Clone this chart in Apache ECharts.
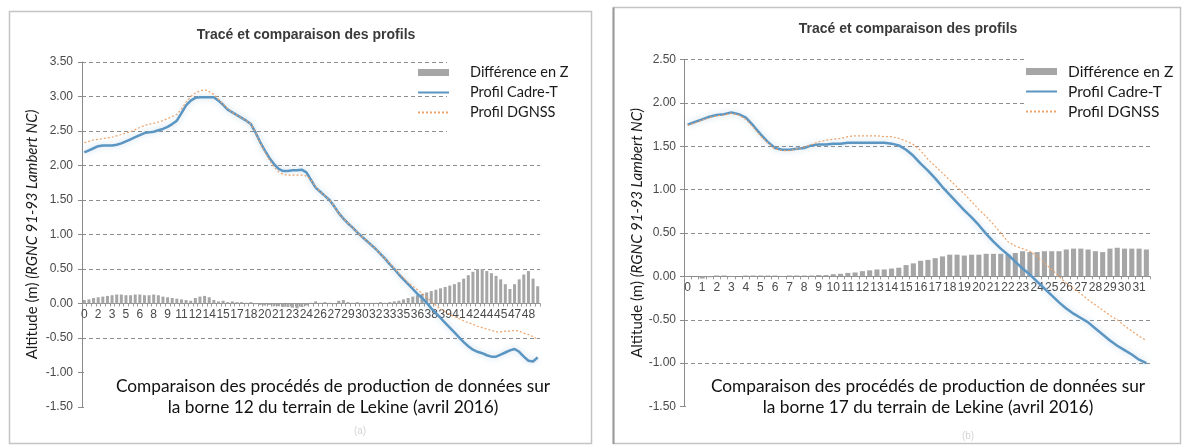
<!DOCTYPE html>
<html>
<head>
<meta charset="utf-8">
<script src="https://cdn.jsdelivr.net/npm/echarts@6.0.0/dist/echarts.min.js"></script>
<style>
  html, body { margin: 0; padding: 0; background: #ffffff; }
  #chart { width: 1185px; height: 445px; }
</style>
</head>
<body>
<div id="chart"></div>
<script>
// Distance along each profile (m), one category every 0.5 m
const distB12 = [0,0.5,1,1.5,2,2.5,3,3.5,4,4.5,5,5.5,6,6.5,7,7.5,8,8.5,9,9.5,
  10,10.5,11,11.5,12,12.5,13,13.5,14,14.5,15,15.5,16,16.5,17,17.5,18,18.5,19,19.5,
  20,20.5,21,21.5,22,22.5,23,23.5,24,24.5,25,25.5,26,26.5,27,27.5,28,28.5,29,29.5,
  30,30.5,31,31.5,32,32.5,33,33.5,34,34.5,35,35.5,36,36.5,37,37.5,38,38.5,39,39.5,
  40,40.5,41,41.5,42,42.5,43,43.5,44,44.5,45,45.5,46,46.5,47,47.5,48,48.5,49];
const distB17 = [0,0.5,1,1.5,2,2.5,3,3.5,4,4.5,5,5.5,6,6.5,7,7.5,8,8.5,9,9.5,
  10,10.5,11,11.5,12,12.5,13,13.5,14,14.5,15,15.5,16,16.5,17,17.5,18,18.5,19,19.5,
  20,20.5,21,21.5,22,22.5,23,23.5,24,24.5,25,25.5,26,26.5,27,27.5,28,28.5,29,29.5,
  30,30.5,31,31.5];

// Borne 12 : altitudes (m)
const cadreB12 = [2.19,2.22,2.25,2.28,2.29,2.29,2.29,2.30,2.32,2.35,
  2.38,2.41,2.44,2.47,2.48,2.49,2.51,2.53,2.56,2.60,
  2.65,2.76,2.87,2.94,2.98,2.99,2.99,2.99,2.99,2.94,
  2.88,2.81,2.77,2.73,2.69,2.65,2.60,2.48,2.34,2.22,
  2.11,2.02,1.95,1.92,1.92,1.93,1.93,1.94,1.90,1.79,
  1.68,1.62,1.56,1.50,1.41,1.31,1.23,1.16,1.10,1.03,
  0.97,0.91,0.85,0.79,0.72,0.65,0.57,0.50,0.42,0.35,
  0.28,0.21,0.14,0.08,0.01,-0.07,-0.14,-0.21,-0.28,-0.35,
  -0.42,-0.49,-0.56,-0.62,-0.67,-0.70,-0.72,-0.75,-0.77,-0.77,
  -0.74,-0.71,-0.68,-0.66,-0.70,-0.77,-0.83,-0.84,-0.78];
const dgnssB12 = [2.33,2.35,2.37,2.38,2.39,2.40,2.41,2.43,2.45,2.47,
  2.49,2.52,2.55,2.58,2.60,2.61,2.63,2.65,2.68,2.71,
  2.74,2.82,2.92,3.00,3.05,3.08,3.10,3.07,3.03,2.96,
  2.89,2.82,2.77,2.73,2.69,2.65,2.60,2.48,2.33,2.20,
  2.08,1.98,1.91,1.87,1.86,1.86,1.86,1.86,1.85,1.79,
  1.69,1.62,1.56,1.50,1.41,1.31,1.23,1.16,1.10,1.03,
  0.97,0.91,0.85,0.79,0.72,0.65,0.58,0.51,0.44,0.37,
  0.30,0.25,0.20,0.15,0.09,0.03,-0.03,-0.08,-0.12,-0.16,
  -0.19,-0.22,-0.25,-0.28,-0.30,-0.33,-0.35,-0.37,-0.39,-0.41,
  -0.41,-0.40,-0.40,-0.39,-0.40,-0.43,-0.45,-0.48,-0.52];
const diffB12 = [0.05,0.06,0.08,0.09,0.10,0.11,0.12,0.13,0.13,0.12,
  0.12,0.13,0.13,0.12,0.12,0.13,0.12,0.10,0.09,0.08,
  0.07,0.06,0.05,0.04,0.08,0.10,0.11,0.09,0.05,0.03,
  0.04,0.02,0.03,0.02,0.02,0.01,0.02,-0.01,-0.02,-0.03,
  -0.02,-0.04,-0.04,-0.05,-0.05,-0.06,-0.07,-0.05,-0.03,0.01,
  0.03,0.01,0.02,0.01,-0.01,0.04,0.05,0.02,0.01,0.02,
  0.01,0.00,0.01,0.01,0.02,0.01,0.02,0.03,0.04,0.06,
  0.08,0.10,0.12,0.14,0.16,0.18,0.20,0.22,0.24,0.26,
  0.28,0.31,0.36,0.41,0.46,0.50,0.50,0.47,0.44,0.40,
  0.35,0.28,0.21,0.28,0.35,0.42,0.47,0.36,0.25];

// Borne 17 : altitudes (m)
const cadreB17 = [1.75,1.78,1.81,1.84,1.86,1.87,1.89,1.87,1.83,1.74,
  1.64,1.55,1.48,1.46,1.46,1.47,1.48,1.51,1.52,1.52,
  1.53,1.53,1.54,1.54,1.54,1.54,1.54,1.54,1.53,1.51,
  1.46,1.39,1.30,1.22,1.13,1.03,0.94,0.85,0.76,0.68,
  0.59,0.49,0.40,0.32,0.25,0.17,0.09,0.02,-0.06,-0.14,
  -0.22,-0.30,-0.37,-0.43,-0.48,-0.53,-0.60,-0.67,-0.74,-0.80,
  -0.85,-0.90,-0.96,-1.00];
const dgnssB17 = [1.74,1.77,1.80,1.83,1.85,1.86,1.88,1.86,1.81,1.72,
  1.62,1.54,1.47,1.45,1.45,1.47,1.49,1.52,1.55,1.57,
  1.58,1.59,1.61,1.62,1.62,1.62,1.62,1.61,1.61,1.59,
  1.56,1.52,1.45,1.35,1.27,1.19,1.11,1.03,0.95,0.86,
  0.77,0.69,0.60,0.50,0.40,0.35,0.32,0.29,0.23,0.15,
  0.08,0.00,-0.08,-0.14,-0.20,-0.27,-0.33,-0.39,-0.45,-0.50,
  -0.57,-0.63,-0.69,-0.74];
const diffB17 = [0.005,0.00,-0.025,-0.01,0.01,0.01,0.005,0.00,0.01,0.01,
  0.01,0.01,0.01,0.005,0.01,0.01,0.01,0.01,0.015,0.015,
  0.025,0.03,0.04,0.045,0.06,0.07,0.08,0.08,0.09,0.10,
  0.13,0.15,0.18,0.19,0.21,0.23,0.25,0.25,0.24,0.25,
  0.25,0.26,0.26,0.26,0.25,0.27,0.29,0.28,0.28,0.29,
  0.29,0.29,0.31,0.32,0.32,0.31,0.29,0.28,0.32,0.33,
  0.32,0.32,0.32,0.31];

const seriesNames = ['Différence en Z', 'Profil Cadre-T', 'Profil DGNSS'];
const chartTitle = 'Tracé et comparaison des profils';
const axisTitle = '{n|Altitude (m) }{i|(RGNC 91-93 Lambert NC)}';
const captionB12 = ['Comparaison des procédés de production de données sur',
                    'la borne 12 du terrain de Lekine (avril 2016)'];
const captionB17 = ['Comparaison des procédés de production de données sur',
                    'la borne 17 du terrain de Lekine (avril 2016)'];

const GREY = '#a6a6a6', BLUE = '#5b95c2', ORANGE = '#eda36a';
const AXIS = '#8a8a8a', GRID = '#8e8e8e', TICKTXT = '#4a4a4a';
const SANS = 'Liberation Sans', HUMAN = 'Lato';

// panel geometry (pixels)
const P12 = { left: 82, right: 540, top: 62, bottom: 407, min: -1.5, max: 3.5 };
const P17 = { left: 684, right: 1150, top: 59.5, bottom: 406.5, min: -1.5, max: 2.5 };
// vertical distance from the plot bottom up to the zero line
function zeroLift(p) { return (p.bottom - p.top) * (0 - p.min) / (p.max - p.min); }

function yAxisFor(grid, p, gap, margin) {
  return {
    type: 'value', gridIndex: grid, min: p.min, max: p.max, interval: 0.5,
    axisLine: { show: true, lineStyle: { color: AXIS, width: 1 } },
    axisTick: { show: true, length: 4, lineStyle: { color: AXIS } },
    axisLabel: { formatter: v => v.toFixed(2), color: TICKTXT, fontFamily: SANS, fontSize: 12, margin: margin },
    splitLine: { show: true, lineStyle: { color: GRID, width: 1, type: [4, 3] } },
    name: axisTitle, nameLocation: 'middle', nameGap: gap,
    nameTextStyle: {
      color: '#1a1a1a',
      rich: {
        n: { fontFamily: HUMAN, fontSize: 15, color: '#1a1a1a' },
        i: { fontFamily: HUMAN, fontSize: 15, fontStyle: 'italic', color: '#1a1a1a' }
      }
    }
  };
}

// category axis drawn along the zero line of the value axis
function xAxisFor(grid, dist, every, p) {
  return {
    type: 'category', gridIndex: grid, data: dist, position: 'bottom', offset: -zeroLift(p),
    axisLine: { onZero: false, lineStyle: { color: AXIS, width: 1 } },
    axisTick: { show: true, interval: 0, length: 3, lineStyle: { color: '#9a9a9a' } },
    axisLabel: { interval: every, formatter: v => String(Math.round(Number(v))),
                 color: TICKTXT, fontFamily: SANS, fontSize: 12, margin: 5 },
    splitLine: { show: false }
  };
}

function seriesFor(idx, diff, cadre, dgnss, gap) {
  return [
    { name: seriesNames[0], type: 'bar', xAxisIndex: idx, yAxisIndex: idx, data: diff,
      barCategoryGap: gap, itemStyle: { color: GREY }, z: 2 },
    { name: seriesNames[1], type: 'line', xAxisIndex: idx, yAxisIndex: idx, data: cadre,
      symbol: 'none', z: 3, itemStyle: { color: BLUE },
      lineStyle: { color: BLUE, width: 2.5, shadowColor: 'rgba(91,149,194,0.35)', shadowBlur: 6 } },
    { name: seriesNames[2], type: 'line', xAxisIndex: idx, yAxisIndex: idx, data: dgnss,
      symbol: 'none', z: 4, itemStyle: { color: ORANGE },
      lineStyle: { color: ORANGE, width: 1.2, type: [2, 2] } }
  ];
}

function legendFor(left, top, pad, size) {
  return {
    orient: 'vertical', left: left, top: top, padding: 0, itemWidth: 31, itemHeight: 7, itemGap: 1,
    selectedMode: false,
    data: [
      { name: seriesNames[0], icon: 'rect' },
      { name: seriesNames[1], itemStyle: { opacity: 0 } },
      { name: seriesNames[2], itemStyle: { opacity: 0 } }
    ],
    textStyle: { fontFamily: HUMAN, fontSize: size, color: '#1a1a1a', lineHeight: 19, padding: [0, 0, 0, pad] }
  };
}

function captionText(x, y, txt) {
  return { type: 'text', x: x, y: y, z: 5,
    style: { text: txt, fontFamily: HUMAN, fontSize: 17.3, fill: '#111111', align: 'center', verticalAlign: 'middle' } };
}

const chart = echarts.init(document.getElementById('chart'), null, { renderer: 'canvas' });
chart.setOption({
  animation: false,
  backgroundColor: '#ffffff',
  title: [
    { text: chartTitle, left: 301, top: 23, textAlign: 'center',
      textStyle: { fontFamily: SANS, fontWeight: 'bold', fontSize: 14, color: '#3a3a3a' } },
    { text: chartTitle, left: 903, top: 17, textAlign: 'center',
      textStyle: { fontFamily: SANS, fontWeight: 'bold', fontSize: 14, color: '#3a3a3a' } }
  ],
  grid: [
    { left: P12.left, right: 1185 - P12.right, top: P12.top, bottom: 445 - P12.bottom },
    { left: P17.left, right: 1185 - P17.right, top: P17.top, bottom: 445 - P17.bottom }
  ],
  xAxis: [ xAxisFor(0, distB12, 2, P12), xAxisFor(1, distB17, 1, P17) ],
  yAxis: [ yAxisFor(0, P12, 42, 9), yAxisFor(1, P17, 38, 8) ],
  legend: [ legendFor(417, 63, 16, 14.5), legendFor(1025, 62, 6, 15.5) ],
  series: [].concat(
    seriesFor(0, diffB12, cadreB12, dgnssB12, '35%'),
    seriesFor(1, diffB17, cadreB17, dgnssB17, '30%')
  ),
  graphic: [
    // panel frames
    { type: 'rect', z: 0, shape: { x: 9.5, y: 11.5, width: 582, height: 432 },
      style: { fill: 'none', stroke: '#c4c4c4', lineWidth: 1.5 } },
    { type: 'rect', z: 0, shape: { x: 613.5, y: 7.5, width: 567, height: 436 },
      style: { fill: 'none', stroke: '#c4c4c4', lineWidth: 1.5 } },
    { type: 'line', z: 0, shape: { x1: 613.5, y1: 7.5, x2: 613.5, y2: 444 },
      style: { stroke: '#9a9a9a', lineWidth: 2 } },
    // white boxes behind the legends and captions
    { type: 'rect', z: 1, shape: { x: 447, y: 58, width: 100, height: 92 }, style: { fill: '#ffffff' } },
    { type: 'rect', z: 1, shape: { x: 1024, y: 55, width: 130, height: 72 }, style: { fill: '#ffffff' } },
    { type: 'rect', z: 1, shape: { x: 84, y: 366, width: 462, height: 54 }, style: { fill: '#ffffff' } },
    { type: 'rect', z: 1, shape: { x: 686, y: 368, width: 470, height: 52 }, style: { fill: '#ffffff' } },
    captionText(333, 386, captionB12[0]),
    captionText(333, 407, captionB12[1]),
    captionText(928, 386, captionB17[0]),
    captionText(928, 407, captionB17[1]),
    { type: 'text', x: 360, y: 431, z: 5,
      style: { text: '(a)', fontFamily: SANS, fontSize: 10, fill: '#d4d4d4', align: 'center', verticalAlign: 'middle' } },
    { type: 'text', x: 968, y: 436, z: 5,
      style: { text: '(b)', fontFamily: SANS, fontSize: 10, fill: '#d4d4d4', align: 'center', verticalAlign: 'middle' } }
  ]
});
</script>
</body>
</html>
